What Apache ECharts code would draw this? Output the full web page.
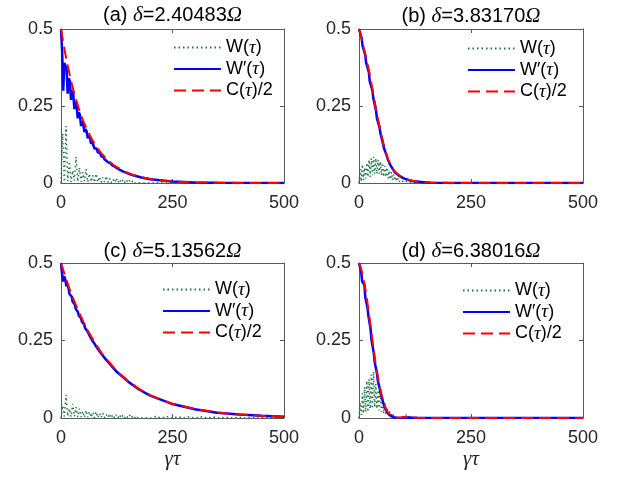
<!DOCTYPE html>
<html><head><meta charset="utf-8">
<script src="https://cdn.jsdelivr.net/npm/echarts@6/dist/echarts.min.js"></script>
<style>html,body{margin:0;padding:0;background:#fff}#c{width:625px;height:479px}</style>
</head><body><div id="c"></div>
<script>
// ---------- tick labels ----------
const xTicks = [0, 250, 500];
const yTicks = [0, 0.25, 0.5];
const panelLetters = ['a', 'b', 'c', 'd'];
const deltas = ['2.40483', '3.83170', '5.13562', '6.38016'];
const seriesNames = ['W', 'Wp', 'C'];

// ---------- panel (a) ----------
const aTauC = [0,5,10,15,20,25,30,35,40,45,50,60,70,80,90,100,110,120,140,160,180,200,225,250,300,350,400,450,500];
const aC = [0.5,0.457,0.417,0.381,0.348,0.317,0.29,0.265,0.242,0.221,0.201,0.168,0.14,0.117,0.097,0.081,0.068,0.056,0.039,0.027,0.019,0.013,0.008,0.005,0.002,0.001,0.0004,0.0002,0];
const aTauWp = [0,2.5,5,7.5,10,12.5,15,17.5,20,22.5,25,27.5,30,32.5,35,37.5,40,42.5,45,47.5,50,52.5,55,57.5,60,62.5,65,67.5,70,72.5,75,77.5,80,82.5,85,87.5,90,92.5,95,97.5,100,105,110,115,120,130,140,150,160,180,200,250,300,350,400,500];
const aWp = [0.5,0.43,0.30,0.39,0.38,0.37,0.29,0.34,0.33,0.27,0.30,0.29,0.24,0.265,0.25,0.21,0.23,0.22,0.185,0.20,0.19,0.165,0.175,0.167,0.145,0.153,0.146,0.127,0.134,0.128,0.112,0.117,0.112,0.099,0.102,0.098,0.087,0.089,0.085,0.077,0.078,0.068,0.065,0.057,0.054,0.044,0.037,0.031,0.026,0.018,0.012,0.005,0.002,0.001,0.0004,0];
const aTauW = [0,3.75,7.5,11.25,15,18.75,22.5,26.25,30,33.75,37.5,41.25,45,48.75,52.5,56.25,60,63.75,67.5,71.25,75,78.75,82.5,86.25,90,93.75,97.5,101.25,105,108.75,112.5,116.25,120,123.75,127.5,131.25,135,138.75,142.5,146.25,150,153.75,157.5,161.25,165,168.75,172.5,176.25,180,183.75,187.5,191.25,195,198.75,202.5,206.25,210,220,230,250,500];
const aW = [0,0.16,0.004,0.185,0.006,0.07,0.003,0.04,0.008,0.085,0.005,0.05,0.004,0.035,0.006,0.045,0.003,0.03,0.004,0.025,0.002,0.03,0.003,0.02,0.002,0.018,0.003,0.022,0.002,0.015,0.001,0.013,0.002,0.016,0.001,0.012,0.001,0.01,0.001,0.011,0.001,0.008,0.001,0.008,0,0.006,0.001,0.007,0,0.005,0,0.004,0,0.004,0,0.003,0,0.002,0,0,0];

// ---------- panel (b) ----------
const bTauC = [0,5,10,15,20,25,30,35,40,45,50,55,60,65,70,75,80,90,100,110,120,140,160,200,250,500];
const bC = [0.5,0.472,0.442,0.412,0.38,0.345,0.305,0.265,0.225,0.19,0.157,0.125,0.098,0.077,0.06,0.047,0.037,0.024,0.016,0.011,0.007,0.003,0.0015,0.0005,0,0];
const bTauWp = [0,6,8,14,16,22,24,30,32,38,40,46,48,54,56,62,64,70,72,80,90,100,110,120,140,160,200,250,500];
const bWp = [0.5,0.47,0.445,0.415,0.39,0.36,0.33,0.30,0.275,0.235,0.21,0.18,0.16,0.125,0.112,0.088,0.078,0.058,0.052,0.035,0.023,0.015,0.01,0.006,0.003,0.001,0,0,0];
const bTauW = [0,2.5,5,7.5,10,12.5,15,17.5,20,22.5,25,27.5,30,32.5,35,37.5,40,42.5,45,47.5,50,52.5,55,57.5,60,62.5,65,67.5,70,72.5,75,77.5,80,82.5,85,87.5,90,95,100,105,110,120,130,500];
const bW = [0,0.045,0.005,0.06,0.01,0.05,0.015,0.065,0.02,0.075,0.02,0.08,0.025,0.085,0.03,0.08,0.03,0.075,0.03,0.07,0.025,0.065,0.02,0.055,0.02,0.05,0.015,0.04,0.012,0.035,0.01,0.028,0.008,0.02,0.005,0.015,0.004,0.01,0.002,0.006,0.001,0.003,0,0];

// ---------- panel (c) ----------
const cTauC = [0,10,20,30,40,50,60,75,90,100,125,150,175,200,225,250,300,350,400,450,500];
const cC = [0.5,0.455,0.413,0.376,0.342,0.311,0.282,0.245,0.212,0.193,0.152,0.12,0.094,0.074,0.059,0.046,0.029,0.018,0.011,0.007,0.004];
const cTauWp = [0,3,5,7,10,12,14,17,19,21,24,26,28,31,33,35,38,40,42,45,47,49,52,54,56,60,65,70,75,80,90,100,125,150,175,200,250,300,350,400,450,500];
const cWp = [0.5,0.455,0.44,0.458,0.445,0.425,0.432,0.418,0.40,0.405,0.392,0.375,0.378,0.366,0.352,0.353,0.342,0.33,0.33,0.322,0.31,0.31,0.302,0.29,0.29,0.278,0.263,0.25,0.24,0.228,0.208,0.19,0.149,0.118,0.092,0.072,0.045,0.028,0.017,0.011,0.007,0.004];
const cTauW = [0,3.75,7.5,11.25,15,18.75,22.5,26.25,30,33.75,37.5,41.25,45,48.75,52.5,56.25,60,63.75,67.5,71.25,75,78.75,82.5,86.25,90,93.75,97.5,101.25,105,108.75,112.5,116.25,120,123.75,127.5,131.25,135,138.75,142.5,146.25,150,153.75,157.5,161.25,165,168.75,172.5,176.25,180,183.75,187.5,191.25,195,198.75,202.5,210,217.5,225,232.5,240,247.5,255,262.5,270,277.5,285,292.5,300,307.5,315,322.5,330,337.5,345,352.5,360,367.5,375,382.5,390,397.5,405,412.5,420,427.5,435,442.5,450,457.5,465,472.5,480,487.5,495,500];
const cW = [0,0.04,0.005,0.075,0.006,0.03,0.004,0.045,0.005,0.035,0.003,0.03,0.003,0.022,0.002,0.025,0.002,0.02,0.002,0.018,0.001,0.02,0.001,0.015,0.001,0.016,0.001,0.012,0.001,0.013,0,0.011,0,0.01,0,0.011,0,0.009,0,0.008,0,0.009,0,0.007,0,0.007,0,0.006,0,0.006,0,0.005,0,0.005,0,0.005,0,0.004,0,0.005,0,0.004,0,0.004,0,0.004,0,0.003,0,0.004,0,0.003,0,0.003,0,0.003,0,0.003,0,0.002,0,0.003,0,0.002,0,0.002,0,0.002,0,0.002,0,0.002,0,0.002,0];

// ---------- panel (d) ----------
const dTauC = [0,5,10,15,20,25,30,35,40,45,50,55,60,65,70,75,80,90,100,110,120,130,150,500];
const dC = [0.5,0.48,0.45,0.41,0.36,0.305,0.25,0.195,0.15,0.11,0.077,0.05,0.03,0.017,0.009,0.004,0.002,0.001,0.003,0.004,0.003,0.001,0,0];
const dTauWp = [0,5,7,12,14,19,21,26,28,33,35,40,42,47,49,54,56,61,63,68,70,75,80,85,100,110,120,140,500];
const dWp = [0.5,0.47,0.44,0.43,0.39,0.355,0.33,0.285,0.25,0.21,0.18,0.145,0.12,0.09,0.075,0.05,0.04,0.025,0.018,0.01,0.007,0.003,0.001,0,0.001,0.002,0.001,0,0];
const dTauW = [0,2.5,5,7.5,10,12.5,15,17.5,20,22.5,25,27.5,30,32.5,35,37.5,40,42.5,45,47.5,50,52.5,55,57.5,60,62.5,65,67.5,70,72.5,75,77.5,80,85,90,95,100,105,110,115,120,125,130,135,140,150,500];
const dW = [0,0.05,0.01,0.08,0.015,0.1,0.02,0.12,0.02,0.125,0.03,0.14,0.03,0.15,0.035,0.11,0.03,0.09,0.025,0.095,0.02,0.07,0.015,0.05,0.01,0.03,0.008,0.025,0.005,0.015,0.003,0.01,0.002,0.008,0.001,0.006,0.002,0.01,0.002,0.008,0.001,0.005,0,0.002,0,0,0];

// ---------- build ----------
function zip(xs, ys) { const n = Math.min(xs.length, ys.length); const out = []; for (let i = 0; i < n; i++) out.push([xs[i], ys[i]]); return out; }

const panelData = [
  { W: zip(aTauW, aW), Wp: zip(aTauWp, aWp), C: zip(aTauC, aC) },
  { W: zip(bTauW, bW), Wp: zip(bTauWp, bWp), C: zip(bTauC, bC) },
  { W: zip(cTauW, cW), Wp: zip(cTauWp, cWp), C: zip(cTauC, cC) },
  { W: zip(dTauW, dW), Wp: zip(dTauWp, dWp), C: zip(dTauC, dC) }
];

const layout = [
  { grid: { left: 61, top: 29, width: 223, height: 154 }, titleY: 15, legend: { left: 173, top: 38 }, xname: false },
  { grid: { left: 359, top: 29, width: 224, height: 154 }, titleY: 16, legend: { left: 467, top: 39 }, xname: false },
  { grid: { left: 61, top: 263, width: 223, height: 155 }, titleY: 251, legend: { left: 162, top: 280 }, xname: true },
  { grid: { left: 359, top: 263, width: 224, height: 155 }, titleY: 251, legend: { left: 462, top: 281 }, xname: true }
];

const SANS = 'Liberation Sans, Arial, Helvetica, sans-serif';
const SERIF = 'Liberation Serif, Times New Roman, serif';
const AXC = '#5a5a5a';
const TXT = '#262626';
const GREEN = '#1f7543', BLUE = '#0000ff', RED = '#ff0000';

const rich = {
  n: { fontFamily: SANS, fontSize: 18, color: '#000', lineHeight: 20 },
  t: { fontFamily: SERIF, fontStyle: 'italic', fontSize: 19, color: '#000', lineHeight: 20 }
};
const legendLabel = { W: '{n|W(}{t|τ}{n|)}', Wp: '{n|W′(}{t|τ}{n|)}', C: '{n|C(}{t|τ}{n|)/2}' };

const option = { animation: false, backgroundColor: '#fff', grid: [], xAxis: [], yAxis: [], series: [], legend: [], graphic: [] };

layout.forEach((L, i) => {
  option.grid.push(Object.assign({ containLabel: false }, L.grid));
  const tickStyle = { inside: true, length: 4, lineStyle: { color: AXC, width: 1 } };
  const lineStyle = { show: true, onZero: false, lineStyle: { color: AXC, width: 1 } };
  option.xAxis.push({ gridIndex: i, type: 'value', position: 'bottom', min: xTicks[0], max: xTicks[2], interval: xTicks[1] - xTicks[0],
    axisLine: lineStyle, axisTick: tickStyle, splitLine: { show: false },
    axisLabel: { fontFamily: SANS, fontSize: 18, color: TXT, margin: 11 } });
  option.xAxis.push({ gridIndex: i, type: 'value', position: 'top', min: xTicks[0], max: xTicks[2], interval: xTicks[1] - xTicks[0],
    axisLine: lineStyle, axisTick: tickStyle, splitLine: { show: false }, axisLabel: { show: false } });
  option.yAxis.push({ gridIndex: i, type: 'value', position: 'left', min: yTicks[0], max: yTicks[2], interval: yTicks[1] - yTicks[0],
    axisLine: lineStyle, axisTick: tickStyle, splitLine: { show: false },
    axisLabel: { fontFamily: SANS, fontSize: 18, color: TXT, margin: 8 } });
  option.yAxis.push({ gridIndex: i, type: 'value', position: 'right', min: yTicks[0], max: yTicks[2], interval: yTicks[1] - yTicks[0],
    axisLine: lineStyle, axisTick: tickStyle, splitLine: { show: false }, axisLabel: { show: false } });

  const D = panelData[i];
  option.series.push({ name: 'W', type: 'line', xAxisIndex: 2 * i, yAxisIndex: 2 * i, data: D.W, showSymbol: false, symbol: 'none',
    lineStyle: { color: GREEN, width: 1.5, type: [1.5, 3] }, itemStyle: { color: GREEN }, z: 2 });
  option.series.push({ name: 'Wp', type: 'line', xAxisIndex: 2 * i, yAxisIndex: 2 * i, data: D.Wp, showSymbol: false, symbol: 'none',
    lineStyle: { color: BLUE, width: 2.5 }, itemStyle: { color: BLUE }, z: 3 });
  option.series.push({ name: 'C', type: 'line', xAxisIndex: 2 * i, yAxisIndex: 2 * i, data: D.C, showSymbol: false, symbol: 'none',
    lineStyle: { color: RED, width: 2, type: [12, 6] }, itemStyle: { color: RED }, z: 4 });

  option.legend.push({ data: seriesNames, orient: 'vertical', left: L.legend.left, top: L.legend.top, padding: 0,
    itemWidth: 47, itemHeight: 14, itemGap: 2.5,
    itemStyle: { opacity: 0, borderWidth: 0 },
    formatter: (name) => legendLabel[name], textStyle: { rich: rich } });

  const cx = L.grid.left + L.grid.width / 2;
  option.graphic.push({ type: 'text', x: cx, y: L.titleY, silent: true,
    style: { text: '{n|(' + panelLetters[i] + ') }{g|δ}{n|=' + deltas[i] + '}{o|Ω}', align: 'center', verticalAlign: 'middle',
      rich: { n: { fontFamily: SANS, fontSize: 20, fill: '#000' }, g: { fontFamily: SERIF, fontStyle: 'italic', fontSize: 21, fill: '#000' }, o: { fontFamily: SERIF, fontStyle: 'italic', fontSize: 21, fill: '#000' } } } });
  if (L.xname) {
    option.graphic.push({ type: 'text', x: cx, y: L.grid.top + L.grid.height + 41, silent: true,
      style: { text: 'γτ', align: 'center', verticalAlign: 'middle', fontFamily: SERIF, fontStyle: 'italic', fontSize: 21, fill: TXT } });
  }
});

const chart = echarts.init(document.getElementById('c'));
chart.setOption(option);
</script>
</body></html>
